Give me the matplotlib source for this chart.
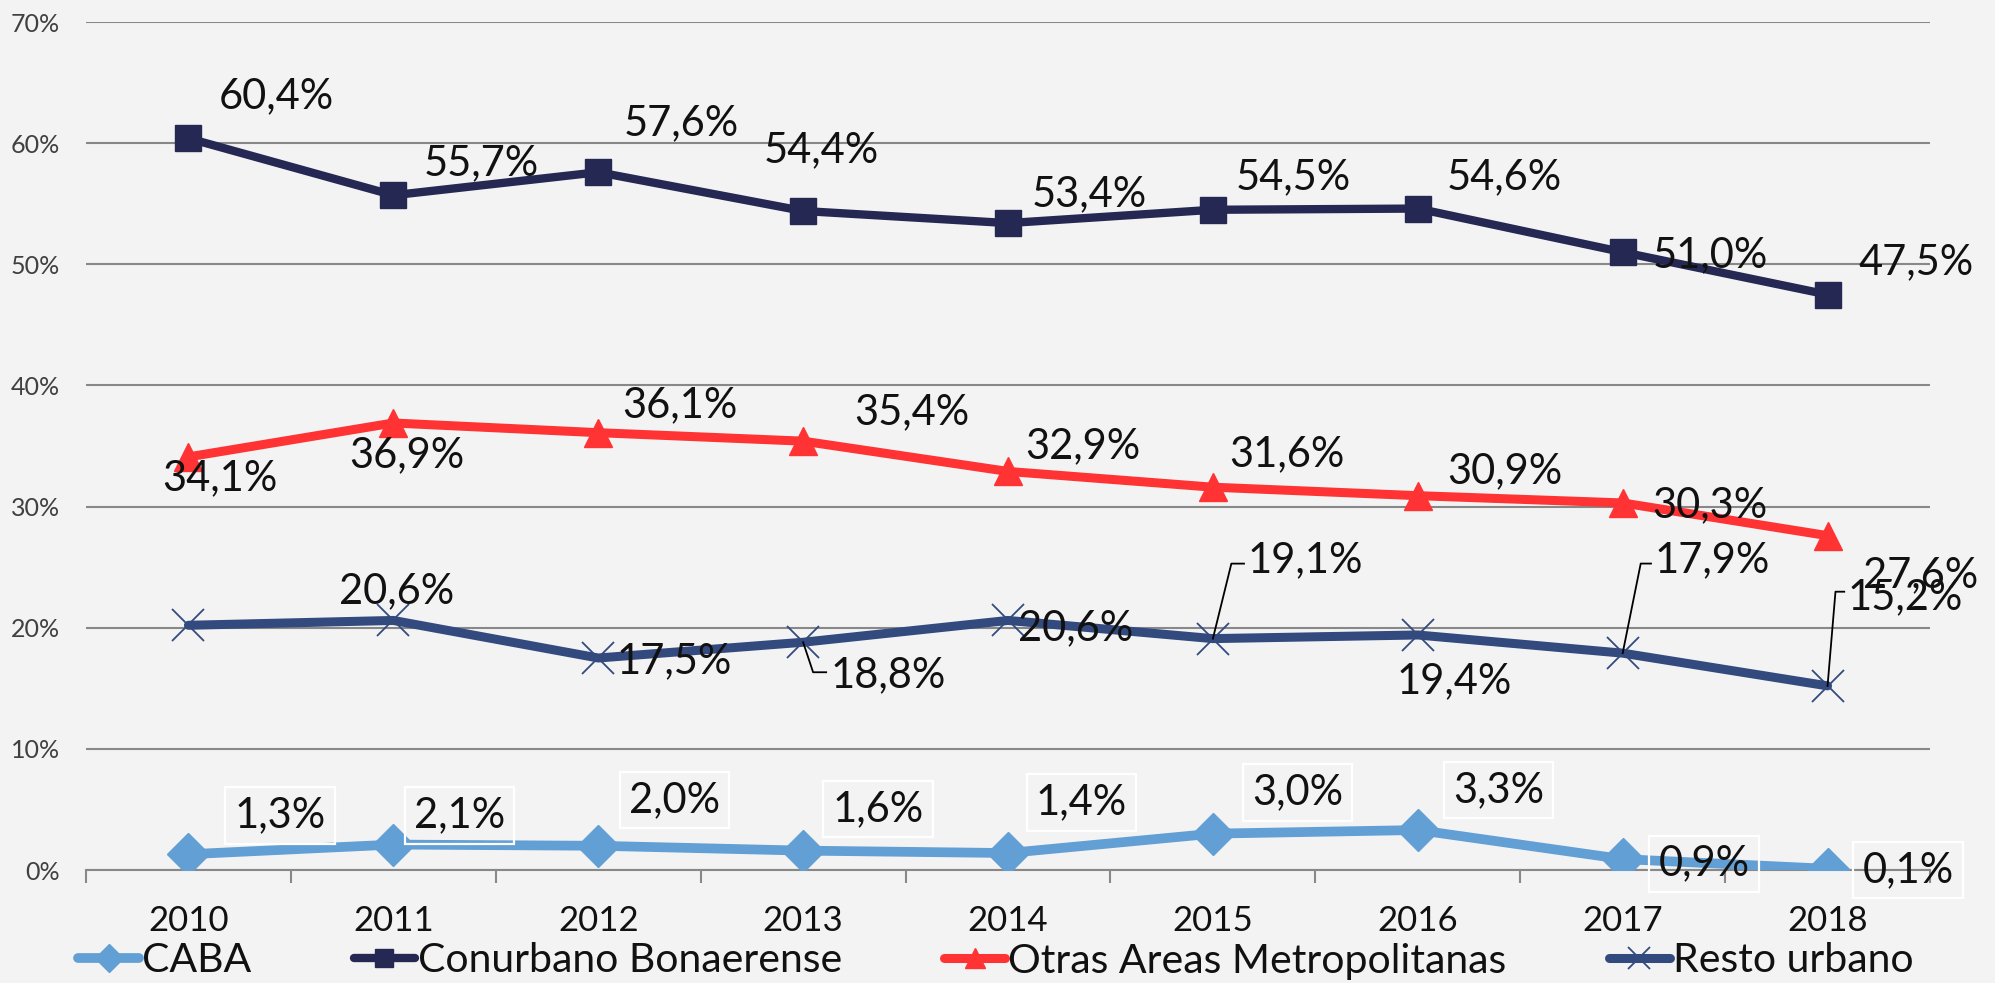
import matplotlib
matplotlib.use('Agg')
import matplotlib.pyplot as plt
import matplotlib.transforms as mtrans
from matplotlib.ticker import FixedLocator, FuncFormatter

# ---------------- data ----------------
years = ['2010', '2011', '2012', '2013', '2014', '2015', '2016', '2017', '2018']
caba = [1.3, 2.1, 2.0, 1.6, 1.4, 3.0, 3.3, 0.9, 0.1]
conurbano = [60.4, 55.7, 57.6, 54.4, 53.4, 54.5, 54.6, 51.0, 47.5]
otras = [34.1, 36.9, 36.1, 35.4, 32.9, 31.6, 30.9, 30.3, 27.6]
resto = [20.2, 20.6, 17.5, 18.8, 20.6, 19.1, 19.4, 17.9, 15.2]
series_names = ['CABA', 'Conurbano Bonaerense', 'Otras Areas Metropolitanas', 'Resto urbano']
y_ticks = [0, 10, 20, 30, 40, 50, 60, 70]
resto_label_shown = [False, True, True, True, True, True, True, True, True]

# ---------------- styles / layout ----------------
BG = '#F3F3F3'
C_CABA = '#629FD4'
C_CONU = '#252852'
C_OTRAS = '#FF3333'
C_RESTO = '#334A7F'
GRID = '#888888'
TXT = '#111111'
FONT = ['Lato', 'DejaVu Sans']

# label offsets (points) relative to data point
off_caba = [(66, 28), (47.6, 21), (55, 33), (53.8, 30), (52.8, 36.4), (61, 29.7), (58, 29), (58.6, -3.3), (58, -1)]
off_conu = [(63, 30), (63, 23), (59.5, 35), (13, 44), (58.5, 21), (58, 23.5), (62, 22.6), (63, -2), (64, 23)]
off_otras = [(23, -15.6), (10, -23.5), (58.5, 20), (78, 20.7), (53.7, 17.9), (53.6, 23.7), (62.5, 17.9), (62.5, -1.6), (67, -28.4)]
off_resto = [(0, 0), (2.7, 20.8), (55, -2.6), None, (49, -5.8), None, (26, -33), None, None]
# leader-line labels for resto: (leader polyline in points, text left anchor in points)
lead_resto = {
    3: ([(0, 0), (7.2, -21.6), (16.6, -21.6)], (19.5, -23.5)),
    5: ([(0, 0), (13.3, 54), (22.4, 54)], (25, 56.8)),
    7: ([(0, 0), (13, 64.5), (20.4, 64.5)], (23, 67)),
    8: ([(0, 0), (5.7, 67.8), (12, 67.8)], (14.5, 64)),
}


def fmt(v):
    return f"{v:.1f}%".replace('.', ',')


plt.rcParams['font.family'] = FONT

fig = plt.figure(figsize=(19.95, 9.83), dpi=100, facecolor=BG)
ax = fig.add_axes([86 / 1995, 1 - 870 / 983, (1930 - 86) / 1995, (870 - 22) / 983])
ax.set_facecolor(BG)
ax.set_xlim(-0.5, len(years) - 0.5)
ax.set_ylim(y_ticks[0], y_ticks[-1])

x = list(range(len(years)))

l1, = ax.plot(x, caba, color=C_CABA, lw=7, marker='D', ms=21, mec=C_CABA, zorder=3,
              label=series_names[0], solid_capstyle='round')
l2, = ax.plot(x, conurbano, color=C_CONU, lw=6, marker='s', ms=19, mec=C_CONU, zorder=3,
              label=series_names[1], solid_capstyle='round')
l3, = ax.plot(x, otras, color=C_OTRAS, lw=6.5, marker='^', ms=20, mec=C_OTRAS, zorder=3,
              label=series_names[2], solid_capstyle='round')
l4, = ax.plot(x, resto, color=C_RESTO, lw=6.5, marker='x', ms=23, mew=1.3, mec=C_RESTO, zorder=3,
              label=series_names[3], solid_capstyle='round')

LBL = 30
for i, v in enumerate(caba):
    ax.annotate(fmt(v), (i, v), xytext=off_caba[i], textcoords='offset points',
                ha='center', va='center', fontsize=LBL, color=TXT, zorder=6,
                bbox=dict(boxstyle='square,pad=0.22', fc='none', ec='white', lw=1.6))
for i, v in enumerate(conurbano):
    ax.annotate(fmt(v), (i, v), xytext=off_conu[i], textcoords='offset points',
                ha='center', va='center', fontsize=LBL, color=TXT, zorder=6)
for i, v in enumerate(otras):
    ax.annotate(fmt(v), (i, v), xytext=off_otras[i], textcoords='offset points',
                ha='center', va='center', fontsize=LBL, color=TXT, zorder=6)
for i, v in enumerate(resto):
    if not resto_label_shown[i]:
        continue
    if i in lead_resto:
        pts, tpos = lead_resto[i]
        tr = fig.dpi_scale_trans + mtrans.ScaledTranslation(i, v, ax.transData)
        ax.plot([p[0] / 72 for p in pts], [p[1] / 72 for p in pts], color='black', lw=1.3,
                zorder=5, transform=tr, clip_on=False)
        ax.annotate(fmt(v), (i, v), xytext=tpos, textcoords='offset points',
                    ha='left', va='center', fontsize=LBL, color=TXT, zorder=6)
    else:
        ax.annotate(fmt(v), (i, v), xytext=off_resto[i], textcoords='offset points',
                    ha='center', va='center', fontsize=LBL, color=TXT, zorder=6)

ax.yaxis.set_major_locator(FixedLocator(y_ticks))
ax.yaxis.set_major_formatter(FuncFormatter(lambda v, p: f"{int(v)}%"))
ax.set_xticks(x)
ax.set_xticklabels(years)
ax.set_xticks([i - 0.5 for i in range(len(years) + 1)], minor=True)
ax.grid(axis='y', color=GRID, lw=1.5, zorder=0)
ax.set_axisbelow(True)
for s in ['top', 'right', 'left']:
    ax.spines[s].set_visible(False)
ax.spines['bottom'].set_color(GRID)
ax.spines['bottom'].set_linewidth(1.5)
ax.tick_params(axis='y', length=0, pad=19, labelsize=18, labelcolor='#404040')
ax.tick_params(axis='x', which='major', length=0, pad=25, labelsize=25, labelcolor=TXT)
ax.tick_params(axis='x', which='minor', length=9, width=1.5, color=GRID, direction='out')

leg = fig.legend(handles=[l1, l2, l3, l4], loc='center left', bbox_to_anchor=(78 / 1995, 1 - 961 / 983),
                 ncol=4, frameon=False, fontsize=29.5, handlelength=1.49, handletextpad=0.07,
                 columnspacing=2.5, borderpad=0, borderaxespad=0, markerscale=0.7)
for t in leg.get_texts():
    t.set_color(TXT)

fig.savefig('out.png', dpi=100, facecolor=BG)
